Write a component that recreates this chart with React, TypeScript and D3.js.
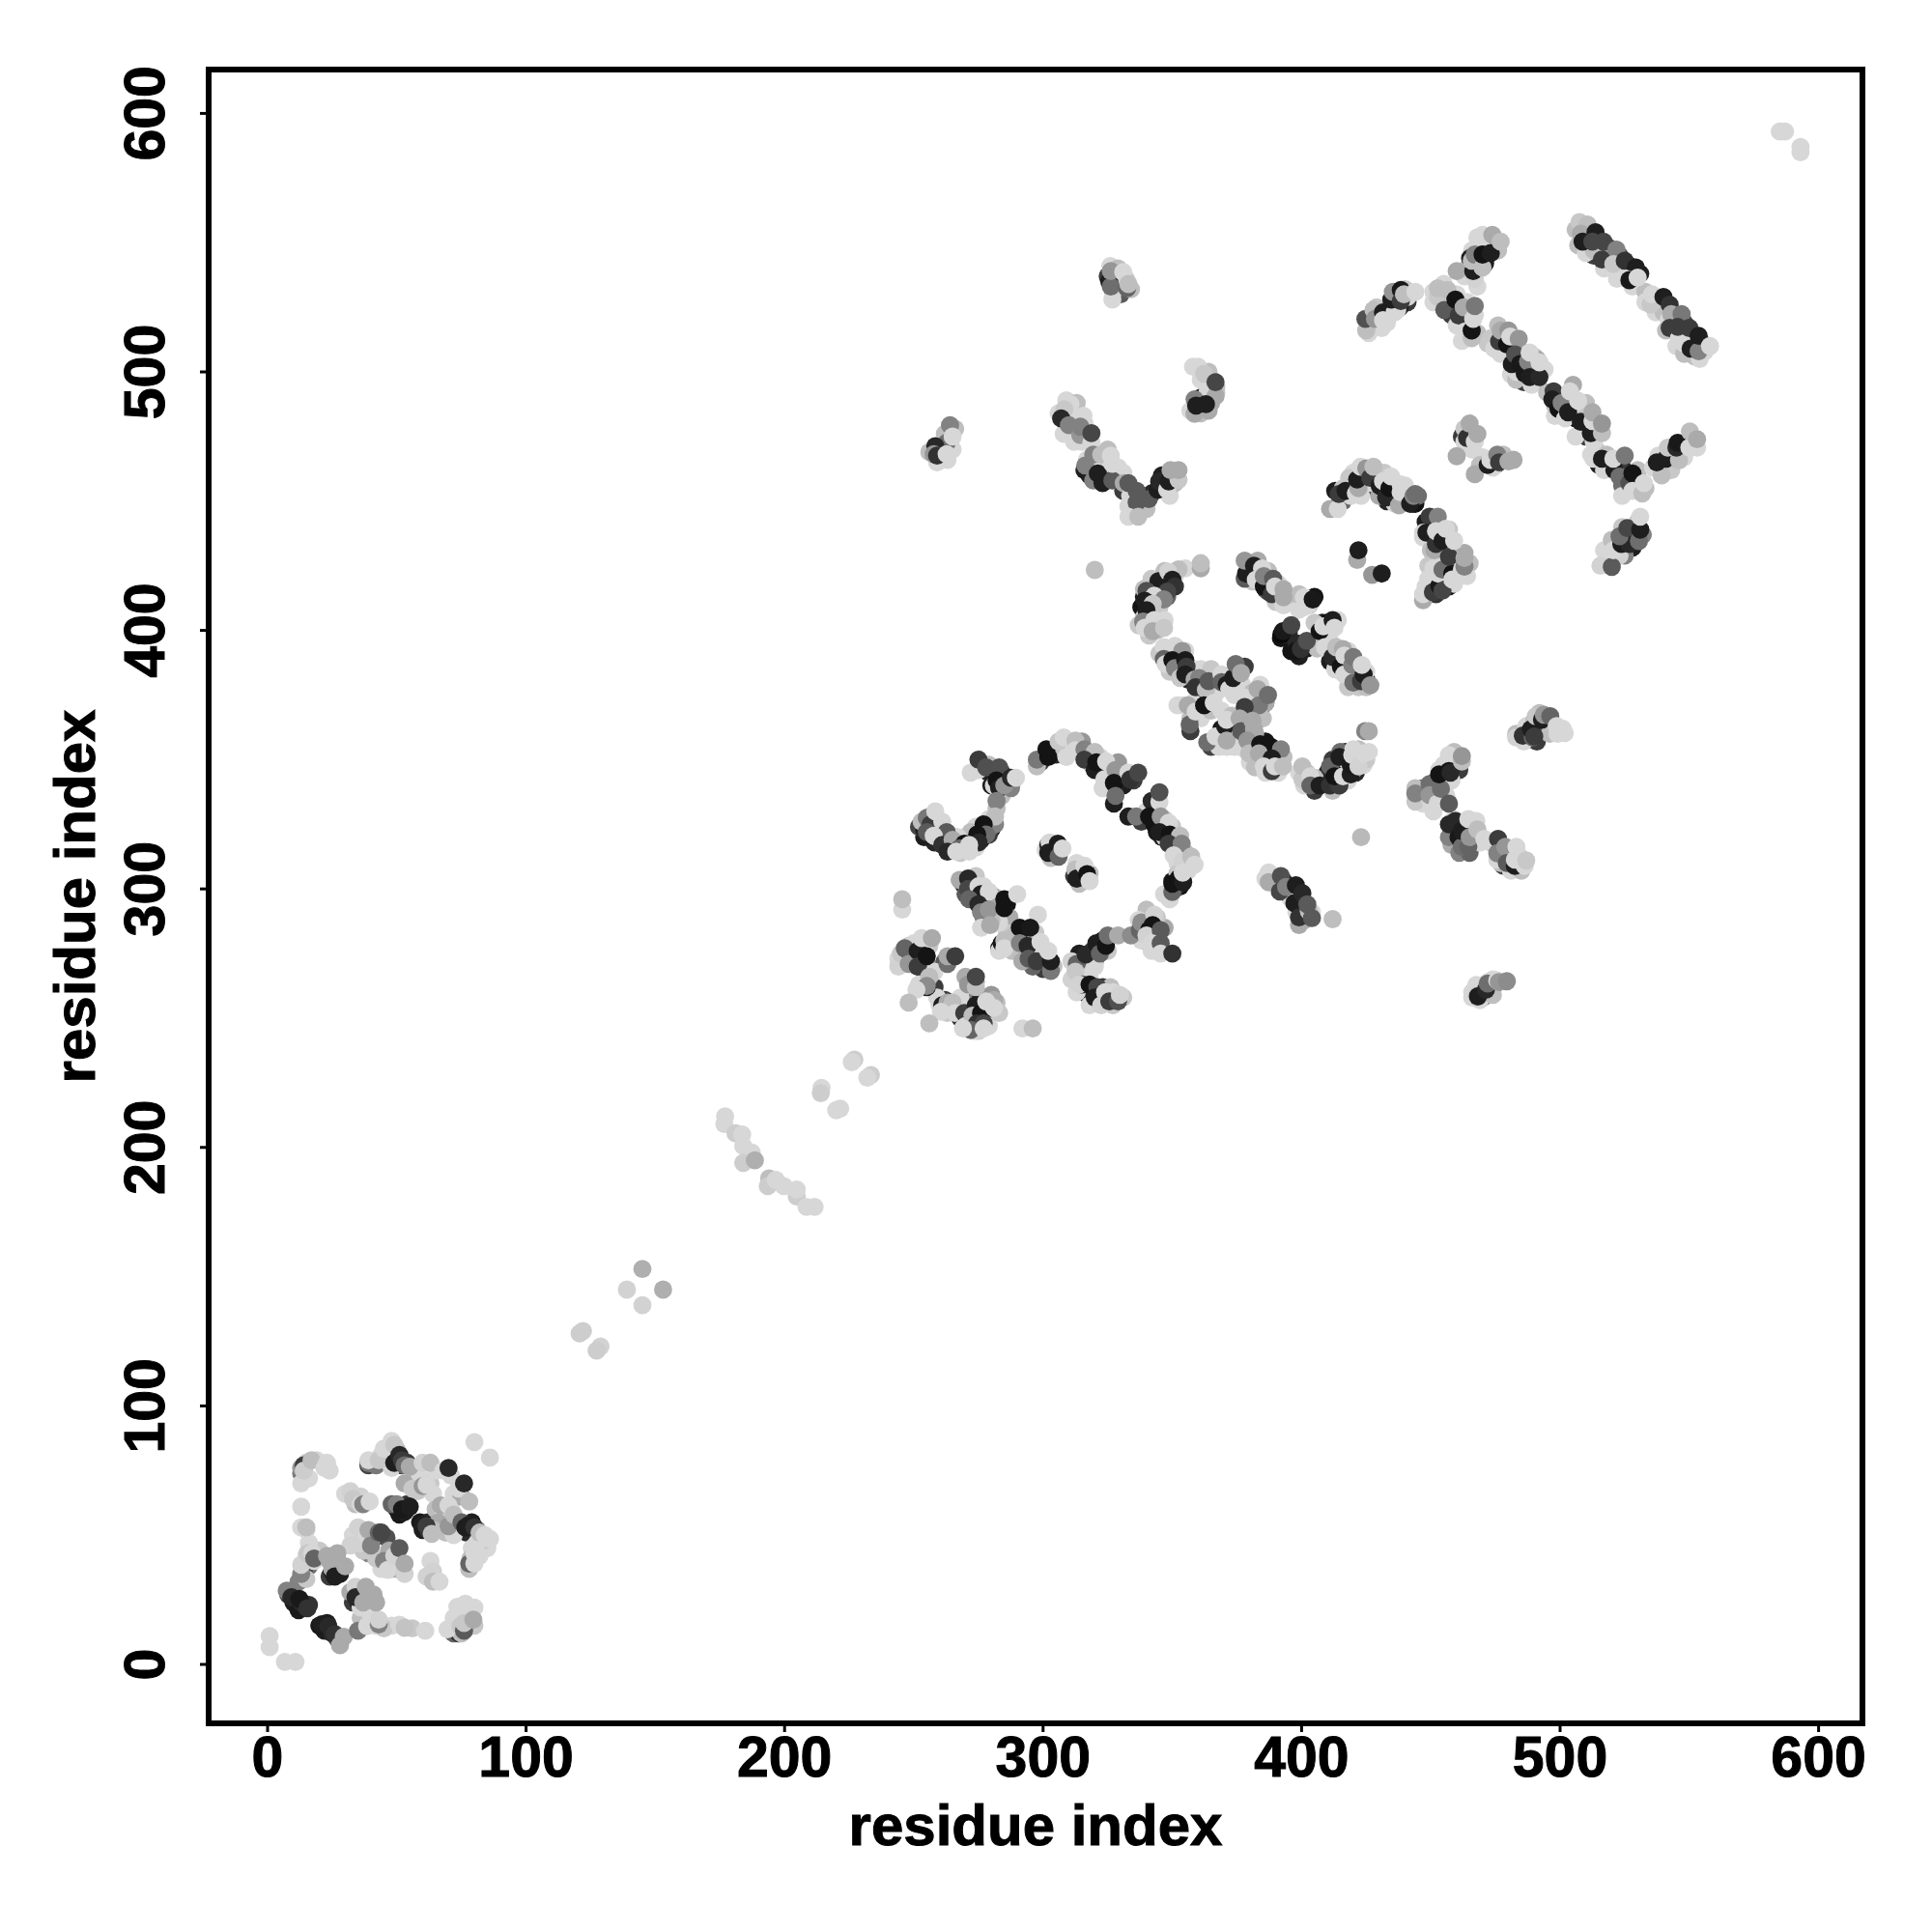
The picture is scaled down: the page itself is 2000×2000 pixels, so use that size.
import React from "react";
import * as d3 from "d3";

const xTicks = [0, 100, 200, 300, 400, 500, 600];
const yTicks = [0, 100, 200, 300, 400, 500, 600];
const axisTitle = "residue index";

// [residue x, residue y, grey level]
const lowCluster = [
[0.8,11,215],[0.8,6.7,215],[6.7,1,215],[10.8,1,215],[80,86,215],[86,80,215],
[7.4,28.5,130],[9.2,26,40],[12.3,25.4,25],[15.4,21.7,50],[21,15.5,30],[23.5,14.8,40],[26,11.7,50],[28,7.4,170],[29.5,10.7,170],
[35,13,120],[38.5,14.8,215],[43,15.5,130],[43,17.3,210],[51,15.4,215],[53,14.2,195],[61,13,215],[69.6,13.6,215],[74.6,14.8,200],[76,13,90],[76.5,23.5,215],[73.4,22.3,215],[76,16,200],[79.6,17.3,170],
[13,70,215],[13,76,150],[14,77,60],[14,75,205],[17,79,190],[23,78,215],[22,76,215],[13,61,215],[13,53,215],[15,52,215],[15,53,190],
[32,67,210],[33,64,200],[36,62,215],[37,62,130],[39.5,63,215],
[39,78,120],[39,79,215],[43,79,200],[45,83.5,215],[49,78,30],[48,86.5,215],[49,85,200],[51,81,40],[52,79,60],[53,77,110],[55,76.5,170],[60,78,210],[63,78,190],[68,75,215],[70,76,40],[74,68,215],[76,70,40],
[53,70,170],[56,68,200],[60,69,150],[61.5,69.5,215],[50,62,130],[52,60,25],[55,61,30],[67,61.5,170],[70,61.5,215],[70,53.5,150],[72,58,190],[78,63,190],
[60,54,30],[61.5,53.5,60],[63.5,50.5,190],[75,55,100],[76.5,53,30],[78,54,30],[80,53,50],[81,47,215],[82,51,190],[84,50,215],[86,48.5,215],[78.5,41,190],[78,39,100],[80,39,215],[80,43,215],
[35,53,210],[36,47,210],[38.5,50,215],[39,52,170],[40,46,130],[43,51,100],[44,51,70],[45,40,130],[46.5,36.6,215],[49,42,210],[51,45,90],[53,35,210],[53,39,170],
[63,40,215],[64,36,210],[61.5,34,210],[64,32,190],[66.5,32,215],
[13,35,130],[13,38.5,210],[15.4,43,200],[17.3,43,215],[18,41,100],[23,42,170],[25,37,170],[24,40,170],[26,34,30],[30,38,170],[34,26,40],[38,30,170],[37,24,170],[42,24,170],
];
const diagonal = [
[227,234,205],[226,233,215],[233.4,228,205],[232,227,215],[214.3,223,215],[214,221,205],[221.5,215,215],[220,214.4,215],
[177,212,215],[176.7,209,215],[181,205.5,205],[183.6,205,215],[184,200.5,215],[187.3,198,215],[184,194,205],[188.5,195,175],[194,188,190],[193.5,185,205],[196.6,187.4,215],[199.7,185,215],[204.7,181,205],[204.7,183.7,215],[208.5,177,215],[211.6,177,215],
[145,153,175],[139,145,210],[153,145,175],[145,139,210],[122,129,205],[120.7,128,205],[128.8,123,210],[127.3,121.4,205],
[585,593,215],[587,593,215],[593,585,215],[593,587,215],
];
const leftBlock = [
[245.5,292,215],[245.5,296,190],
[244,270,210],[245,275,200],[246.5,277,100],[248,271,150],[251.5,276,30],[251.5,270,60],[253,281,215],[255,274,20],[257,281,170],[256,266,190],[255,262,30],[255,262.5,140],[251,261,215],[248,256,190],
[263,271,110],[263,274,170],[266,274,60],[271,263,150],[274,262,190],[274,266,70],
[261,255,30],[263,256,170],[265,256,190],[260.5,252.5,215],[256,248,190],[266,252,215],[269.5,252,60],[270,247,215],[274,255,30],[272.7,251,190],[276,252,20],[274.5,248,50],[277,248,70],[281,257,170],[278,256.5,215],[281,254,215],[272,245.5,100],[277,246,215],[269,246,215],
[292,246,215],[296,246,190],
];
const midBand = [
[267.7,303.5,170],[271,304,40],[271,300,70],[275,301,215],[276,298,30],[271.4,296,100],[279,299,215],[275,294,40],[276,291,130],[279,292,150],[285,292.6,20],[285,296,20],[290,298,215],
[276,285,215],[279.5,286,170],[284,279,20],[285,280,190],[285,277,215],[298,290,215],[291,285,20],[295,285,25],[291,279,130],[294,278,40],[294.4,273,90],[297.5,272,60],[299,279.5,215],[303,268.3,120],[303,272,30],[302,276,215],
];
const rightLower = [
[313,271,100],[312.5,268,200],[315,263,30],[314,263,210],[316.5,274.6,40],[320.6,279,30],[322,275,100],[324.3,278,20],[325,282,110],[329,282,170],[334,282,140],[318,263,20],[321,262,70],[320,258,30],[324,260,215],[327,260,215],[322.5,255,210],[325.6,256.5,60],[329,256.5,80],[329.7,259,210],
[337.4,284,100],[338,287,140],[341,284,20],[343,290,210],[342.4,286,20],[340,282,210],[345.5,284,90],[342,279,215],[345.5,279,90],[345.5,275,215],[350,275,50],
];
const upperLeftArc = [
[275,346,215],[275,350,60],[278,347,80],[283,347,80],[282,342,20],[283,339,30],[287.6,339,130],[285,340,150],[287.6,343,40],[289.5,343,215],
[282,334,130],[281.4,325,130],[281.4,328,190],[277,325,20],[278,321,110],[274.5,321,20],[275,318,40],
[255,327.5,120],[256.5,325,60],[258.3,330,215],[261,326,215],[255,322,90],[262.7,322,90],[257.7,320.6,215],[261,317,50],[265,319,170],[263,314.4,40],[269.5,317.5,20],[267.7,315.7,100],[266.4,314.4,215],[271.4,314.4,215],[271.4,317,215],
];
const innerPair = [
[302,317,40],[302.5,318,215],[302,314,30],[305.7,317.5,30],[306,312.5,100],[307.5,315.6,215],
[312.5,307.5,190],[313,304,30],[316,309,215],[317,305.7,20],[318,303,215],
];
const upperRightArc = [
[297.6,347.4,190],[297.6,350,120],[302,351,20],[301.3,354,20],[306,357,200],[308,358.6,215],[312.5,357.4,190],[312.5,353.6,215],[316,354,130],[320,353,190],[316,350,60],[320,346,30],[320.6,349,20],[324.4,349.3,215],[323.7,342.4,215],[328,346,150],[327.4,341,20],[327.4,333,30],[328,336,110],[333,345,215],[333.7,342.4,50],[336.8,345,70],
[342,334,40],[345,333.7,215],[345,337.4,80],[333,328,30],[336,328,120],[341,328,20],[343,325,20],[345.5,328,150],[348.6,325.6,215],[345,322,30],[349,321,20],[353,320.6,190],[348.6,317.5,60],[353.6,317.5,130],[350.5,313,215],[354,310.7,210],[357.3,312.5,190],[358.6,309.4,215],[346.8,298,215],[350,298.8,100],[350,302,20],[352.4,304,20],[354.2,302.6,30],[354,306.3,215],
];
const arcA = [
[361,424,170],[361,426,190],
[344.6,419,30],[352.4,423.6,190],[348.4,422.7,210],[350,419.6,30],[351,417,50],[348,415,70],[340,415.3,80],[343,413.4,215],[346.7,412,130],[339.3,411.5,30],[342.4,410.3,200],[340,407.8,30],[338.7,403.4,130],[339.3,401,215],[343,404,215],[342.4,399.7,170],[346.8,401,200],
];
const bandA = [
[346.7,393.5,215],[346.7,389,100],[347.4,387,215],[353.8,392,150],[350,388.5,20],[351,385.4,130],[355,388.5,25],[353,381.6,200],[355.5,386,60],[355,383,30],[358.6,381,170],[360.4,381.6,130],[359,378,50],[363,377,190],[364,380.4,90],[369,383,215],[369,380,100],[371,379,30],[372,377.3,215],[373.5,381.6,30],[374.5,387,110],[376.6,383.5,170],
[354,371,215],[356,371,170],[356.7,363.6,100],[359,368.6,215],[362.3,371,20],[366,372,215],[363.5,356.7,110],[366.7,359,215],[370.4,363,30],[371,365.4,215],[371,355,215],[371,357.4,170],
[380,372,215],[383,377.3,170],[383.5,371,120],[387,375,110],[378,370.4,60],[377.3,365,130],[376,366,170],[376.6,361,90],[381,365,170],[381.6,361.7,170],
];
const lowerArcA = [
[379,357.4,150],[379.7,352.4,190],[384,356,20],[388,355,20],[383.5,352.4,170],[392,354,130],[388.5,350.5,30],[385.4,347.4,215],[388.5,345.5,60],[389.7,347.4,215],[392.8,347.4,190],
[400.3,342.4,200],[400.3,347.4,190],[403.4,343.6,215],[403.4,340,100],[407,340,30],[411,340,50],[414.6,340,60],[411,347.4,100],[414.6,351,30],[412.7,343.6,20],[416,343.6,215],[419,344.3,30],[419,348,25],[419.6,351.8,215],[422,347.4,210],[424,352.4,215],
[424.6,361,130],[426,361,170],[423,320,185],
[421.5,427.3,170],[422,431,30],[427.3,421.5,150],[431,422,30],
];
const topArc = [
[411,447,170],[414,447,215],[414.4,452.8,60],[418.4,459,200],[417,454,30],[421,453,215],[422,455,170],[421.5,458.4,30],[422.8,463.3,215],[425,462.7,150],[426.5,459,60],[427.8,463.3,190],[430,452,170],[430.2,456,30],[431.5,457.7,215],[432.7,451.5,40],[434,455,20],[434.6,459.6,215],[437.7,448.4,170],[438.3,453.4,215],[438.3,456.5,215],[442,449,30],[443.3,452,130],[444,452.8,110],
[447,411.7,170],[447,414,215],[450.8,414.8,60],[453.3,417.3,25],[454.5,415.4,70],[452.7,422,215],[454.5,423.5,110],[458.3,422,20],[458.3,419.7,215],
[449.5,444,60],[447,437.8,215],[448.3,437.8,30],[452.7,444,130],[451.4,431,170],[452,433.4,50],[452,438.4,215],[454.5,434.7,30],[455.8,439.3,215],[457,428.5,60],[459,434.7,215],[462,423.5,215],[463,424.7,130],[463,428,170],
];
const bandB = [
[378,420,90],[378.5,422,30],[378,427,150],[381.6,425,30],[384.7,424,215],[382.3,419.6,215],[385.4,417,20],[385.4,421,130],[388.5,414,60],[389,420,90],[389.7,417,215],[393,409.7,215],[393,412.8,170],[393,416,170],
[400.9,409,215],[400.9,412.8,215],[404.3,412,25],[392.2,398.5,10],[392.8,399.7,25],[396,402,70],[397.8,392,20],[399.7,392.8,50],[402,396,80],
[407,399.7,20],[408.4,401.6,215],[412,404,30],[412.7,401,215],
[409,393.5,215],[412,389.7,40],[413.4,393.5,190],[416,392.8,170],[415.2,386,20],[416.5,383,215],[416.5,390.3,215],[420,379.8,110],[419.6,386.6,130],[420,389.7,120],[423,380.4,60],[424,383,30],[423.3,386.6,215],[426.6,378.8,150],
];
const rightTop = [
[425,516,190],[424.7,520.5,80],[427.8,524,190],[428.4,520.5,150],[431.5,523,30],[431.5,520,215],[436,523,215],[434.7,528,30],[435.3,531,150],[438.4,531.7,25],[438.4,527.4,60],[439.6,530,190],[444,531,215],
[452.7,529,200],[452.7,532.4,190],[456.4,531.7,190],[455.2,524,90],[459.5,528,20],[460.8,521.8,60],[462.7,525,170],[463.3,515.6,215],[465.8,513,190],[465.8,516,20],[466.4,520.5,215],[467,525.5,120],
[460,539,170],[467,536,210],[466.4,539,30],[465.2,544,30],[465.8,543,190],[467,545.4,130],[470,540.4,190],[470,545.4,20],[473.2,546,30],[470,553,215],[473.8,553,170],[477,550.4,190],
];
const rightStrand = [
[507.5,558,200],[510.6,557,190],[508,553.5,170],[508.7,550.4,30],[513.7,554,30],[512.5,550.4,70],[516.8,550.4,70],[516.2,543.5,60],[521.8,547.3,130],[520.6,541.7,200],[525,543,50],[529.3,540.4,30],[525.6,536,215],[526.8,535.5,25],[530,536.5,215],
[535,526,200],[535.5,530,215],[540,529,30],[542.4,526,50],[543,522.4,170],[547,522.4,120],[542.4,517,60],[546,513,215],[545.5,517.4,60],[550,517,60],[550.5,509,30],[553.6,508,130],[553.6,514,30],[558,510,215],
];
const middleStrand = [
[473.2,513,200],[474.5,509,215],[476.4,511.8,60],[477,516,170],[480,516,150],[479.5,510.6,20],[480.7,513.7,215],[484,512.8,150],[483.2,500,215],[481.3,503,30],[482.6,506.8,80],[484.5,503,25],[486.3,499.4,25],[487.6,504,130],[488.2,498,30],[488.2,507.5,215],[492,498,40],[492,503.7,215],
[497.5,492.5,60],[497,489.4,30],[499.4,485.7,20],[500.6,488,130],[502,482,215],[503.1,484.4,30],[503.8,492.5,215],[507,488.8,215],[508.7,477,215],[508,480.7,30],[513,473,215],[511.9,476.3,30],[512.5,481,215],[512.5,484.4,170],[516.2,476.3,190],[516.2,480,150],
[513,466.4,215],[516.2,466.4,30],[521,462,30],[520.6,466.4,215],[525,467.6,120],[523,459.5,110],[526.8,457,80],[528,460.7,20],[528,454,215],[531.8,453,190],[532.4,457,215],
[539.3,460,190],[538,467.6,215],[537.4,465,30],[541,466.4,30],[541.7,470.7,200],[546,465.8,190],[545,470.7,40],[545.5,472.6,25],[550,470.7,215],[553,470.7,215],[550.2,477,190],[553,474,170],
[515.6,425,210],[520,424.6,90],[520.6,431,215],[523.7,433.4,30],[526.8,433.4,40],[523,436.4,110],[526,439.6,70],[530.5,434.6,110],[531,439,30],[531,444,215],
[464,474.5,50],[465,480,170],[467,473,215],[468,476,170],[460,467.4,170],[467,460.4,170],[472,464,30],[473,466,215],[475.7,468,130],[476.4,465,60],[480,465.4,170],
];
const lowerRight = [
[483,358.6,210],[485.6,359.3,50],[489.4,358.6,100],[488.7,361.8,30],[490,359,60],[490.6,366.8,200],[493,365.5,30],[493.7,367.4,150],[496.2,366.8,100],[498.7,363,215],[501.8,360.3,215],
[444,333.8,200],[444,336.9,130],[449.5,340.6,110],[450,334,215],[449.5,336.3,150],[452.6,333,215],[453.2,346,215],[453.9,338.7,110],[457,333,90],[457,351.8,215],[453.2,344.3,20],[457,345.6,20],[457.6,345,40],[462,349.3,190],[462,351.4,150],
[457,320,130],[457,325,40],[459.5,326.3,40],[460.7,320,25],[462,316.3,110],[462,322.5,30],[464.5,316.3,100],[465,320,150],[464.5,327,215],[467.6,326.3,215],[468,323,190],[470.7,319.4,215],
[476,319.4,60],[475.7,311.3,215],[475.7,313.8,130],[478.8,316.3,150],[479.4,310,90],[482.5,308.9,30],[483.1,316.3,215],[482.5,311.3,215],[486.3,308.9,215],[486.9,311,200],
[387.3,306.4,215],[387.3,302.6,170],[391.6,299,70],[392,305,80],[394,300.8,130],[397.2,294.5,30],[397.8,301.4,30],[400.3,298.3,40],[399,289,50],[402.8,291.4,190],[402.2,294,90],[404,288.7,90],[412,288.3,190],
[467.6,262.8,215],[467.6,259,210],[468.2,258.4,30],[471.3,261,40],[472,263.4,110],[475.7,264.6,215],[476.3,264,150],[479.4,264.3,140],
];
const upperLeft = [
[326.8,528,215],[325.6,535,30],[326.2,533,110],[326.2,539,150],[331,538.6,215],[332.5,532.4,100],[333,534,190],
[264,479.4,130],[262.7,472.6,110],[265,475,215],[258.3,471.3,40],[257.7,468.2,150],[259,467.6,50],[262.7,468.2,215],
[360,502,215],[362.3,499.3,200],[363.6,492,215],[366.7,490.6,170],[366.7,496,70],[358.6,483.8,170],[358.6,489.4,130],[359.2,487,30],[363,487.5,30],
[310.6,487.5,215],[308.2,485.6,200],[307,482,40],[310,477,215],[310,479.4,130],[315.6,483,215],[314.4,475.6,150],[314.4,478.8,130],[318.7,472.6,215],[318.7,476.3,70],[316.3,463.8,130],[319.4,468,130],[322.5,468,190],[319.4,458,130],[321.2,460.7,30],[323,457,30],[326.2,467.6,215],[326.8,458,90],[326.8,464.5,215],[331.2,457,170],[333.7,452,215],[333,457,90],[336.2,449.5,90],[336.2,454,90],[340.9,450.8,90],[344.3,454.5,30],[344.9,457.6,40],[348,454.5,215],[348.6,457.6,30],[352.4,458.3,200],[349.3,462,170],[352.4,462,170],
[333,444,215],[336.8,444,190],[320,423.4,190],
];

// marks that lie beneath the main reading (dark and mid greys showing as slivers)
const underMarks = [
[49,80,30],[50,78,40],[52,77,30],[54,78,60],[47,80,50],[50,60,30],[51,58,25],[53,59,30],[54,62,50],[48,62,100],[60,52,30],[62,52,50],[59,55,25],[62,55,40],[75,52,30],[77,51,40],[79,55,30],[81,52,40],[74,54,70],[28,35,30],[26,36,40],[44,50,60],[46,49,80],[33,24,60],[35,24,40],[72,12,100],[74,12,50],[76,15,30],[14,76,60],[13,74,120],[39,77,70],[42,77,120],[41,50,130],[39,43,130],[16,38,110],[12,32,130],[14,36,70],[24,34,60],[25,36,25],
[8,27,70],[10,24,30],[11,23,30],[13,23,30],[14,22,30],[16,23,50],[12,21,25],[13,24,40],[22,13,30],[24,13,30],[25,12,40],[20,15,25],[23,16,30],[27,10,60],[28,9,130],
[247,273,60],[249,275,30],[250,272,40],[253,273,30],[252,278,80],[254,272,25],[256,270,130],[254,268,150],[256,264,100],[258,262,60],[263,254,30],[262,257,60],[268,250,50],[270,250,30],[272,248,40],[274,250,25],[276,250,60],[279,252,90],[270,254,80],[272,256,130],[276,258,40],[262,272,90],
[269,302,30],[273,302,25],[274,299,40],[272,298,30],[270,298,90],[277,296,20],[278,294,50],[280,295,100],[283,294,30],[286,294,20],[283,291,140],[277,289,100],[278,288,30],[283,277,30],[292,283,25],[293,280,30],[296,283,30],[292,276,60],[296,276,40],[299,271,30],[301,273,40],[300,269,60],[302,270,30],[296,270,100],
[312,272,30],[314,275,30],[315,270,40],[317,272,30],[319,276,60],[320,272,110],[321,277,20],[323,280,20],[313,266,25],[315,265,50],[316,260,30],[319,261,60],[322,258,30],[318,258,40],[323,262,50],[326,258,50],[328,257,40],[339,285,20],[340,287,50],[344,283,30],[344,281,60],[341,279,30],[343,277,70],
[279,345,40],[281,344,30],[284,345,60],[286,341,30],[280,340,30],[283,336,70],[280,323,30],[279,321,60],[276,319,25],[272,319,30],[268,316,30],[258,318,40],[254,320,30],[259,324,40],[252,324,70],[254,325,60],[254,323,30],[259,322,30],[260,320,120],[263,317,30],[266,317,30],[272,321,25],[273,319,30],[274,317,60],[276,323,30],[279,323,90],
[303,315,25],[304,316,20],[315,306,25],[312,305,60],
[303,353,20],[299,349,60],[305,352,40],[318,351,60],[319,348,20],[322,347,30],[325,344,60],[329,343,30],[327,339,30],[331,340,30],[335,342,60],[338,326,60],[343,327,30],[344,322,25],[346,320,30],[347,323,20],[349,318,50],[351,316,60],[350,303,25],[353,301,20],[351,300,40],[355,308,70],
[339,413,30],[341,417,60],[345,417,50],[343,409,70],[346,415,25],[349,418,30],[340,405,50],[338,409,20],[348,413,100],
[349,390,30],[352,387,20],[354,390,30],[357,385,40],[356,381,40],[360,383,30],[362,379,70],[366,382,30],[368,378,30],[372,382,30],[375,380,20],[378,386,60],[363,369,25],[361,372,50],[357,361,60],[365,355,70],[369,362,25],[368,358,40],[373,364,60],[378,360,110],[380,369,60],[384,368,70],[386,372,80],[384,374,30],[380,363,100],[374,360,30],
[381,357,30],[383,354,60],[385,352,30],[387,349,60],[390,351,40],[392,350,30],[386,357,20],[405,338,60],[408,342,30],[409,341,25],[413,342,20],[415,345,30],[416,348,25],[418,346,30],[421,345,40],[412,350,60],[410,345,40],[417,353,40],[415,353,110],
[415,450,30],[413,454,30],[416,450,100],[419,456,30],[423,458,30],[424,455,60],[426,456,30],[428,458,60],[429,455,25],[431,453,30],[433,450,40],[436,452,130],[440,450,30],[443,449,50],[444,449,20],[448,442,30],[450,440,25],[451,436,30],[453,430,30],[455,431,60],[457,431,20],[459,426,30],[456,420,25],[451,418,30],[449,416,30],[455,418,60],[452,414,50],[457,417,20],[460,424,90],
[380,423,30],[380,421,60],[383,421,30],[386,416,30],[387,419,25],[387,415,70],[391,417,60],[392,397,20],[394,398,30],[395,399,40],[396,392,20],[399,390,30],[402,393,30],[398,395,40],[405,413,20],[403,410,30],[408,403,30],[410,403,20],[410,401,20],[411,388,30],[414,388,25],[417,386,20],[419,383,40],[421,385,60],[414,385,30],[421,380,30],[425,381,30],
[426,519,60],[429,522,30],[433,524,60],[433,521,25],[435,526,30],[437,528,40],[436,530,100],[441,527,60],[438,525,30],[456,526,30],[458,522,60],[461,525,25],[463,521,50],[457,529,40],[464,518,30],[462,519,80],[459,524,70],[466,541,60],[468,542,20],[471,542,30],[467,541,30],[469,543,25],
[510,552,30],[511,548,50],[514,552,50],[515,548,30],[517,546,60],[513,545,60],[519,548,70],[520,544,30],[523,545,80],[527,541,30],[528,536,30],[523,539,60],[531,538,30],[537,528,30],[539,526,30],[541,524,60],[544,519,60],[547,516,50],[548,519,70],[549,513,30],[551,512,30],[552,509,60],[555,511,30],[544,521,60],
[476,513,30],[478,512,60],[480,507,60],[483,509,30],[485,505,20],[482,505,30],[486,501,20],[489,501,30],[490,500,60],[491,497,25],[486,496,60],[499,490,30],[499,487,30],[502,486,25],[505,483,30],[506,482,20],[510,478,30],[513,475,40],[510,475,60],[515,464,30],[519,464,40],[522,464,25],[524,463,30],[525,461,60],[524,456,110],[528,456,130],[530,459,70],[539,464,30],[543,467,30],[543,470,50],[547,472,30],[522,434,30],[525,431,40],[526,436,30],[529,436,60],[528,432,30],[525,429,130],[521,428,60],[462,475,60],[465,477,30],[471,466,25],[475,464,50],[477,467,90],
[487,360,40],[491,357,60],[495,365,60],[492,361,25],[494,362,70],[496,360,190],[447,339,100],[447,334,110],[451,341,70],[452,338,100],[455,343,20],[459,347,30],[461,346,60],[459,350,100],[456,341,90],[455,335,90],[459,322,30],[459,318,90],[461,324,25],[463,319,30],[466,322,40],[463,324,60],[467,318,110],[478,312,60],[480,312,25],[481,310,25],[478,309,60],[484,310,40],[389,303,30],[393,303,40],[395,298,30],[396,299,20],[398,297,25],[401,293,40],[399,292,30],[403,289,60],[401,288,60],[396,297,60],[469,260,30],[470,258,40],[473,261,30],[474,262,60],[472,259,130],
[325,537,60],[327,535,30],[329,533,30],[331,535,60],[330,530,90],[260,471,40],[260,469,30],[262,470,50],[264,473,100],[361,490,30],[362,486,50],[363,489,25],[365,488,170],[365,494,40],[365,497,25],[309,480,30],[311,483,60],[312,479,100],[309,484,40],[316,462,30],[318,460,30],[320,462,40],[322,459,20],[324,458,40],[327,462,60],[328,459,70],[331,454,60],[334,448,90],[342,453,40],[346,456,30],[346,460,30],[313,480,100],
];

// pale marks read at the edges of the bands
const overMarks = [
[44,81,215],[46,80,215],[47,84,200],[50,83,190],[57,75,190],[59,72,215],[63,70,200],[64,66,215],[58,67,200],[48,76,215],[65,75,215],[71,73,215],[72,66,215],[65,60,190],[68,58,215],[66,55,170],[69,51,190],[72,50,215],[64,52,190],[71,62,215],[75,65,170],[83,46,215],[85,45,215],[84,48,200],[78,37,190],[79,45,215],[82,42,215],[40,48,215],[37,44,200],[44,37,215],[42,41,200],[47,44,170],[48,37,190],[50,37,170],[33,50,215],[32,46,210],[34,62,190],[36,65,210],[30,66,215],[15,33,200],[18,40,215],[20,44,200],[27,43,170],[16,47,215],[48,15,215],[56,14,200],[72,18,215],[78,16,215],[75,12,190],[80,15,200],[78,22,215],[80,22,215],[36,18,190],[40,18,215],[42,15,215],[45,14,200],[32,28,170],[38,27,170],[41,27,170],[34,30,210],[36,22,215],[15,78,200],[19,79,215],[24,75,215],[16,72,215],[15,42,215],
[246,272,215],[244,273,215],[248,278,200],[250,279,215],[254,279,190],[256,278,200],[252,263,215],[259,258,215],[260,255,215],[263,252,200],[267,255,190],[268,258,215],[271,249,215],[273,245,215],[275,253,215],[279,247,215],[275,245,210],[282,256,190],[283,252,200],[280,259,150],[274,264,170],[270,266,170],[258,268,215],[254,276,215],
[274,305,200],[273,298,200],[277,301,215],[281,297,170],[282,289,215],[287,289,170],[286,283,200],[283,276,215],[288,276,190],[289,282,190],[297,283,200],[300,276,215],[304,270,190],[298,273,215],[292,272,170],[283,287,215],[280,288,190],
[311,272,210],[311,265,210],[313,260,215],[316,267,190],[318,267,215],[320,270,215],[325,276,200],[318,255,215],[322,258,215],[326,262,190],[331,258,200],[327,255,200],[338,280,215],[342,276,215],[347,285,170],[340,292,190],[344,289,200],[337,288,215],
[281,340,215],[284,336,190],[288,341,200],[279,348,190],[272,345,215],[282,331,190],[279,327,215],[274,324,215],[272,322,190],[267,320,215],[253,326,190],[256,328,210],[261,322,215],[259,320,215],[264,321,215],[268,314,200],[274,316,215],
[301,315,215],[305,314,215],[303,312,190],[313,310,215],[318,306,190],[314,302,190],
[305,354,190],[310,355,215],[309,351,215],[315,357,150],[318,349,190],[322,351,215],[326,347,215],[329,349,150],[331,344,215],[323,339,215],[340,330,215],[344,331,190],[347,327,215],[350,324,200],[347,320,215],[352,316,190],[355,314,190],[352,310,215],[356,307,215],[349,296,215],[352,306,200],
[339,416,190],[342,420,200],[346,421,215],[351,421,215],[345,409,200],[339,405,200],[337,402,200],[344,400,190],[347,404,215],[341,398,200],[355,424,215],[347,423,190],
[349,392,215],[351,394,215],[345,391,200],[355,392,215],[349,384,200],[358,385,215],[361,385,215],[365,385,200],[367,376,215],[374,375,215],[377,379,215],[381,376,190],[384,379,215],[386,372,170],[378,374,215],[352,371,215],[358,372,215],[361,366,215],[357,366,190],[365,369,190],[369,369,215],[372,360,215],[368,355,215],[374,355,215],[373,367,190],[382,360,170],[379,368,215],[385,366,190],
[380,349,215],[378,354,215],[382,347,190],[391,345,215],[393,351,190],[386,345,215],[399,345,215],[402,345,200],[401,340,215],[405,343,190],[418,342,215],[420,346,215],[417,350,215],[424,348,215],[422,354,190],[420,354,215],[425,350,200],[412,338,190],[426,353,215],
[416,455,200],[420,461,215],[424,460,215],[419,452,215],[423,452,215],[427,457,215],[432,461,200],[435,453,215],[436,449,215],[440,456,215],[441,453,215],[445,452,110],[447,436,215],[450,431,190],[449,425,200],[453,436,215],[454,428,215],[457,439,200],[458,432,215],[463,430,170],[461,427,215],[465,426,190],[464,421,215],[459,418,215],[456,424,190],[449,420,215],[451,424,215],[448,417,215],
[381,419,200],[384,421,215],[387,423,190],[383,427,170],[391,418,215],[390,411,200],[395,412,190],[399,408,215],[399,414,190],[403,410,215],[410,398,215],[405,403,200],[414,404,215],[406,393,190],[411,396,215],[414,391,215],[418,392,215],[413,385,215],[418,381,215],[422,378,200],[425,378,190],[425,384,215],[418,378,200],
[426,515,215],[431,517,215],[433,519,215],[429,525,200],[437,524,215],[441,529,215],[440,532,200],[451,527,215],[451,531,215],[455,534,215],[460,530,215],[455,527,215],[460,518,215],[464,527,215],[467,522,215],[462,512,215],[468,515,190],[468,533,215],[463,537,215],[464,540,190],[471,550,215],[472,548,215],[468,552,215],[476,547,190],[466,547,215],
[506,555,190],[508,552,215],[507,549,190],[510,546,215],[513,547,190],[517,540,215],[519,544,150],[523,538,190],[524,541,215],[522,536,215],[528,533,215],[533,531,190],[533,527,215],[537,523,215],[540,523,190],[542,520,215],[541,516,190],[545,510,215],[548,507,190],[548,511,215],[552,506,190],[556,508,215],[554,505,215],
[472,511,200],[477,507,215],[476,518,190],[482,510,215],[485,508,215],[481,499,215],[483,497,190],[490,506,215],[489,495,215],[494,501,215],[491,505,170],[495,492,190],[498,483,215],[505,495,170],[504,488,190],[506,485,215],[498,487,190],[510,488,190],[510,483,200],[514,478,215],[506,475,215],[514,470,200],[512,468,215],[518,468,190],[517,462,215],[524,452,215],[530,462,190],[533,455,190],[527,456,215],[536,463,215],[539,464,215],[543,462,200],[544,470,215],[548,467,215],[552,472,190],[518,427,190],[517,431,215],[520,435,190],[523,429,210],[528,438,215],[524,440,200],[532,437,130],[530,442,200],[463,478,200],[463,473,215],[466,470,215],[470,467,215],[474,463,215],[478,468,190],[482,466,170],[469,464,190],
[444,339,190],[447,333,215],[451,330,215],[455,348,215],[459,353,190],[456,336,215],[458,342,215],[459,327,215],[463,325,190],[458,317,170],[461,314,130],[465,314,100],[467,321,170],[469,318,215],[473,318,215],[477,310,190],[481,307,215],[485,307,190],[484,313,215],[480,313,215],[386,304,215],[392,302,190],[396,296,215],[401,288,190],[399,286,170],[398,291,215],[404,291,215],[466,260,215],[469,257,215],[466,258,215],[470,262,215],[474,259,190],[474,265,215],[472,264,215],[483,360,190],[487,363,215],[490,365,190],[492,368,190],[499,360,215],[501,362,215],[486,357,215],
[306,484,215],[309,489,215],[312,484,215],[313,488,190],[308,476,215],[316,480,215],[312,473,215],[315,473,215],[319,465,190],[317,466,215],[323,464,215],[325,470,190],[329,463,215],[331,461,215],[333,448,215],[336,446,200],[340,447,190],[349,452,215],[351,457,190],[326,541,215],[329,540,190],[332,536,200],[334,532,190],[331,533,215],[327,531,215],[259,465,215],[256,469,190],[263,466,215],[265,470,215],[262,476,190],[266,478,190],[357,485,215],[361,484,190],[364,485,170],[367,492,200],[367,494,190],[361,497,215],[364,500,190],[358,502,215],
];

const clusters = [underMarks, overMarks, lowCluster, diagonal, leftBlock, midBand, rightLower, upperLeftArc, innerPair, upperRightArc, arcA, bandA, lowerArcA, topArc, bandB, rightTop, rightStrand, middleStrand, lowerRight, upperLeft];

const FONT = "'Liberation Sans', Arial, sans-serif";

export default function App() {
  const x = d3.scaleLinear().domain([0, 600]).range([277, 1882.6]);
  const y = d3.scaleLinear().domain([0, 600]).range([1723, 117.4]);
  const points = clusters.flat();
  const label = { fontFamily: FONT, fontWeight: "bold", stroke: "#000", strokeWidth: 1 } as const;
  return (
    <svg width={2000} height={2000} style={{ position: "absolute", left: 0, top: 0, display: "block", background: "#fff" }}>
      <g>
        {points.map((p, i) => (
          <circle key={i} cx={x(p[0])} cy={y(p[1])} r={9.4} fill={d3.rgb(p[2], p[2], p[2]).formatHex()} />
        ))}
      </g>
      <rect x={216} y={72} width={1712} height={1712} fill="none" stroke="#000" strokeWidth={6} />
      {xTicks.map((t) => (
        <g key={t}>
          <line x1={x(t)} x2={x(t)} y1={1784} y2={1793} stroke="#000" strokeWidth={3} />
          <text x={x(t)} y={1839} textAnchor="middle" fontSize={59} {...label}>{t}</text>
        </g>
      ))}
      {yTicks.map((t) => (
        <g key={t}>
          <line x1={207} x2={216} y1={y(t)} y2={y(t)} stroke="#000" strokeWidth={3} />
          <text transform={`translate(170,${y(t)}) rotate(-90)`} textAnchor="middle" fontSize={59} {...label}>{t}</text>
        </g>
      ))}
      <text x={1072} y={1910} textAnchor="middle" fontSize={60} {...label}>{axisTitle}</text>
      <text transform="translate(98,928) rotate(-90)" textAnchor="middle" fontSize={60} {...label}>{axisTitle}</text>
    </svg>
  );
}
